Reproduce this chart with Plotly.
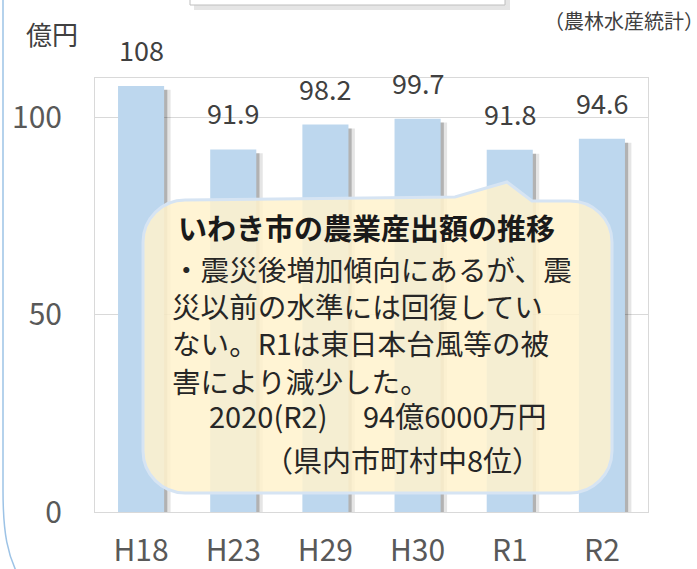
import plotly.graph_objects as go

# ---- data ----
categories = ["H18", "H23", "H29", "H30", "R1", "R2"]
values = [108, 91.9, 98.2, 99.7, 91.8, 94.6]
value_labels = ["108", "91.9", "98.2", "99.7", "91.8", "94.6"]
y_ticks = [0, 50, 100]

title_line = "いわき市の農業産出額の推移"
body_lines = [
    "・震災後増加傾向にあるが、震",
    "災以前の水準には回復してい",
    "ない。R1は東日本台風等の被",
    "害により減少した。",
]
sum_line1 = "2020(R2)\u3000 94億6000万円"
sum_line2 = "（県内市町村中8位）"
unit_label = "億円"
source_label = "（農林水産統計）"

# ---- geometry helpers (pixel -> paper) ----
W, H = 697, 569
ML, MR, MT, MB = 95, 49, 78, 57
PW, PH = W - ML - MR, H - MT - MB
FONT = "Noto Sans CJK JP"


def px(x):
    return (x - ML) / PW


def py(y):
    return (H - MB - y) / PH


fig = go.Figure()

# bar shadows
fig.add_trace(go.Bar(x=categories, y=values, base=-1, width=0.5, offset=-0.25 + 0.07,
                     marker=dict(color="rgba(0,0,0,0.10)", line=dict(width=0)),
                     hoverinfo="skip", showlegend=False))
fig.add_trace(go.Bar(x=categories, y=values, base=-1, width=0.5, offset=-0.25 + 0.035,
                     marker=dict(color="rgba(0,0,0,0.22)", line=dict(width=0)),
                     hoverinfo="skip", showlegend=False))
# main bars
fig.add_trace(go.Bar(x=categories, y=values, width=0.5, offset=-0.25,
                     marker=dict(color="#BDD7EE", line=dict(width=0)),
                     showlegend=False))

annotations = []
for c, v, t in zip(categories, values, value_labels):
    annotations.append(dict(x=c, y=v, xref="x", yref="y", text=t, showarrow=False,
                            yanchor="bottom", yshift=15,
                            font=dict(family=FONT, size=27, color="#404040")))

# unit and source
annotations.append(dict(x=px(52), y=py(33), xref="paper", yref="paper", text=unit_label,
                        showarrow=False, xanchor="center", yanchor="middle",
                        font=dict(family=FONT, size=26, color="#404040")))
annotations.append(dict(x=px(706), y=py(21), xref="paper", yref="paper", text=source_label,
                        showarrow=False, xanchor="right", yanchor="middle",
                        font=dict(family=FONT, size=20, color="#404040")))

# bubble text
annotations.append(dict(x=px(176), y=py(227), xref="paper", yref="paper",
                        text="<b>" + title_line + "</b>", showarrow=False,
                        xanchor="left", yanchor="middle",
                        font=dict(family=FONT, size=29, color="#1a1a1a")))
annotations.append(dict(x=px(170), y=py(246), xref="paper", yref="paper",
                        text="<br>".join(body_lines), showarrow=False, align="left",
                        xanchor="left", yanchor="top",
                        font=dict(family=FONT, size=28.6, color="#262626")))
annotations.append(dict(x=px(207), y=py(415), xref="paper", yref="paper", text=sum_line1,
                        showarrow=False, xanchor="left", yanchor="middle",
                        font=dict(family=FONT, size=29, color="#262626")))
annotations.append(dict(x=px(262), y=py(459), xref="paper", yref="paper", text=sum_line2,
                        showarrow=False, xanchor="left", yanchor="middle",
                        font=dict(family=FONT, size=29, color="#262626")))

# ---- decorative shapes ----
shapes = []
# top box shadow and box
shapes.append(dict(type="rect", xref="paper", yref="paper", x0=px(194), x1=px(510),
                   y0=py(10), y1=py(-20), fillcolor="rgba(0,0,0,0.10)", line=dict(width=0)))
shapes.append(dict(type="rect", xref="paper", yref="paper", x0=px(190), x1=px(505),
                   y0=py(5), y1=py(-20), fillcolor="white", line=dict(color="#BFBFBF", width=1)))

# left rounded frame
frame = "M {} {} L {} {} C {} {} {} {} {} {}".format(
    px(3), py(-5), px(3), py(490),
    px(3), py(535), px(8), py(555), px(18), py(575))
shapes.append(dict(type="path", xref="paper", yref="paper", path=frame,
                   line=dict(color="#9DC3E6", width=1.5)))

# speech bubble
x1, x2, y1, y2, r = 143, 612, 200, 493, 42
k = 0.45


def P(x, y):
    return "{:.5f} {:.5f}".format(px(x), py(y))


bubble = " ".join([
    "M", P(x1 + r, y1),
    "L", P(455, y1 - 3),
    "L", P(507, 182),
    "L", P(532, y1 + 1),
    "L", P(x2 - r, y1 + 1),
    "C", P(x2 - r * k, y1 + 1), P(x2, y1 + r * k), P(x2, y1 + r),
    "L", P(x2, y2 - r),
    "C", P(x2, y2 - r * k), P(x2 - r * k, y2), P(x2 - r, y2),
    "L", P(x1 + r, y2),
    "C", P(x1 + r * k, y2), P(x1, y2 - r * k), P(x1, y2 - r),
    "L", P(x1, y1 + r),
    "C", P(x1, y1 + r * k), P(x1 + r * k, y1), P(x1 + r, y1),
    "Z",
])
shapes.append(dict(type="path", xref="paper", yref="paper", path=bubble,
                   fillcolor="rgba(255,242,204,0.85)", line=dict(color="#D6E4F3", width=3),
                   layer="above"))

fig.update_layout(
    width=W, height=H,
    margin=dict(l=ML, r=MR, t=MT, b=MB, autoexpand=False),
    paper_bgcolor="white", plot_bgcolor="white",
    barmode="overlay",
    showlegend=False,
    annotations=annotations,
    shapes=shapes,
    font=dict(family=FONT),
)
fig.update_xaxes(showline=True, linecolor="#D9D9D9", linewidth=1, mirror=True,
                 showgrid=False, ticks="", ticklabelstandoff=12, automargin=False,
                 tickfont=dict(family=FONT, size=30, color="#595959"))
fig.update_yaxes(range=[0, 110], tickvals=y_ticks, showline=True, linecolor="#D9D9D9",
                 linewidth=1, mirror=True, showgrid=True, gridcolor="#D9D9D9", gridwidth=1,
                 zeroline=False, ticks="", ticklabelstandoff=26, automargin=False,
                 tickfont=dict(family=FONT, size=30, color="#595959"))

fig.write_html("out.html", config={"displayModeBar": False},
               post_script="document.body.style.margin='0';document.body.style.overflow='hidden';")
